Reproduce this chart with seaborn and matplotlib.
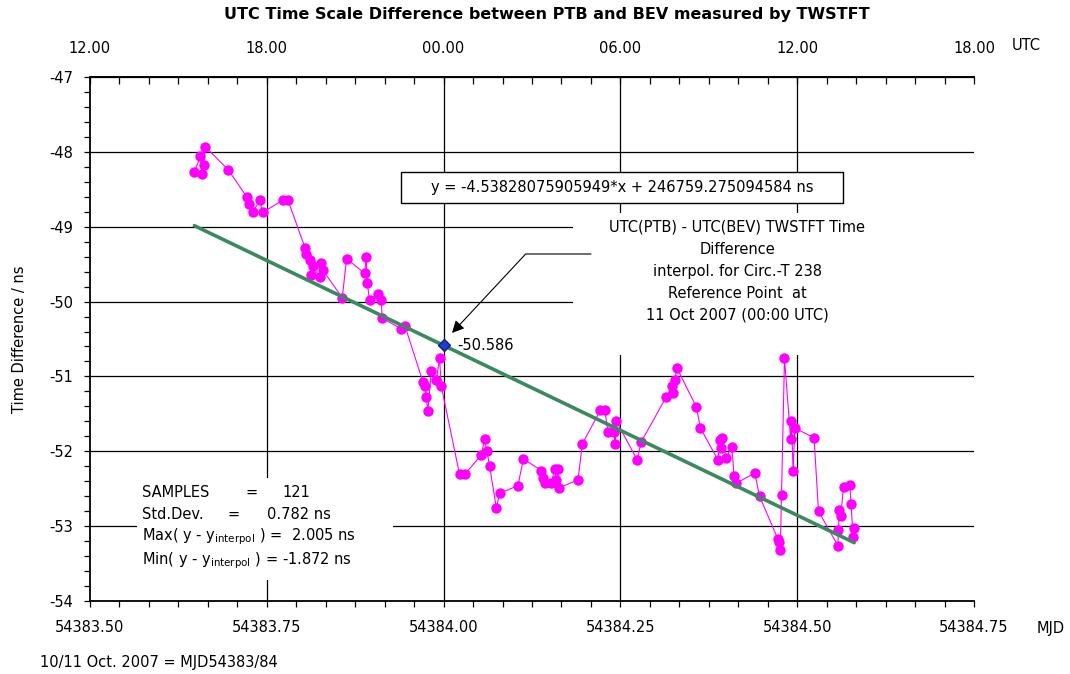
import pandas as pd
import matplotlib
matplotlib.use("Agg")
import matplotlib.pyplot as plt
import seaborn as sns
from matplotlib.patches import Rectangle
from matplotlib.ticker import MultipleLocator

# TWSTFT samples (MJD, ns)
mjd = [
    54383.6477, 54383.6562, 54383.6583, 54383.6611, 54383.6630, 54383.6955,
    54383.7216, 54383.7255, 54383.7305, 54383.7397, 54383.7443, 54383.7736,
    54383.7797, 54383.8040, 54383.8057, 54383.8104, 54383.8128, 54383.8151,
    54383.8246, 54383.8270, 54383.8292, 54383.8567, 54383.8628, 54383.8882,
    54383.8906, 54383.8920, 54383.8953, 54383.9070, 54383.9119, 54383.9130,
    54383.9392, 54383.9455, 54383.9707, 54383.9731, 54383.9755, 54383.9778,
    54383.9826, 54383.9897, 54383.9943, 54383.9967, 54384.0226, 54384.0297,
    54384.0533, 54384.0580, 54384.0613, 54384.0651, 54384.0746, 54384.0792,
    54384.1051, 54384.1129, 54384.1382, 54384.1405, 54384.1436, 54384.1524,
    54384.1570, 54384.1595, 54384.1617, 54384.1631, 54384.1900, 54384.1962,
    54384.2218, 54384.2278, 54384.2325, 54384.2405, 54384.2426, 54384.2443,
    54384.2735, 54384.2797, 54384.3151, 54384.3236, 54384.3247, 54384.3268,
    54384.3301, 54384.3575, 54384.3632, 54384.3881, 54384.3905, 54384.3929,
    54384.3943, 54384.3994, 54384.4075, 54384.4107, 54384.4131, 54384.4400,
    54384.4467, 54384.4726, 54384.4744, 54384.4761, 54384.4778, 54384.4820,
    54384.4907, 54384.4919, 54384.4942, 54384.4966, 54384.5238, 54384.5301,
    54384.5575, 54384.5583, 54384.5596, 54384.5614, 54384.5655, 54384.5744,
    54384.5761, 54384.5791, 54384.5805,
]
diff_ns = [
    -48.27, -48.06, -48.29, -48.17, -47.93, -48.24,
    -48.60, -48.70, -48.80, -48.65, -48.81, -48.64,
    -48.64, -49.28, -49.36, -49.44, -49.64, -49.53,
    -49.67, -49.49, -49.58, -49.95, -49.43, -49.62,
    -49.41, -49.75, -49.98, -49.90, -49.98, -50.22,
    -50.36, -50.33, -51.07, -51.13, -51.28, -51.46,
    -50.93, -51.05, -50.76, -51.13, -52.31, -52.31,
    -52.05, -51.84, -52.00, -52.20, -52.76, -52.56,
    -52.46, -52.10, -52.26, -52.36, -52.42, -52.42,
    -52.24, -52.39, -52.24, -52.49, -52.38, -51.90,
    -51.45, -51.45, -51.74, -51.74, -51.90, -51.60,
    -52.11, -51.87, -51.27, -51.13, -51.22, -51.05,
    -50.89, -51.41, -51.69, -52.12, -51.85, -51.96,
    -51.82, -52.09, -51.94, -52.33, -52.43, -52.29,
    -52.60, -53.17, -53.21, -53.32, -52.58, -50.76,
    -51.84, -51.60, -52.27, -51.69, -51.82, -52.80,
    -53.26, -53.05, -52.79, -52.87, -52.48, -52.45,
    -52.71, -53.14, -53.02,
]

slope = -4.53828075905949
intercept = 246759.275094584
ref_mjd = 54384.0
ref_ns = -50.586

mjd_ticks = [54383.50, 54383.75, 54384.00, 54384.25, 54384.50, 54384.75]
utc_labels = ["12.00", "18.00", "00.00", "06.00", "12.00", "18.00"]
ns_ticks = [-54, -53, -52, -51, -50, -49, -48, -47]

df = pd.DataFrame({"mjd": mjd, "ns": diff_ns})
fit = pd.DataFrame({"mjd": [min(mjd), max(mjd)]})
fit["ns"] = slope * fit["mjd"] + intercept

sns.set_theme(style="white")
plt.rcParams["font.family"] = ["DejaVu Sans"]
plt.rcParams["axes.unicode_minus"] = False
for key in ["text.color", "axes.labelcolor", "xtick.color", "ytick.color"]:
    plt.rcParams[key] = "black"

fig = plt.figure(figsize=(10.7, 6.74), dpi=100)
ax = fig.add_axes([0.0841, 0.1083, 0.8262, 0.7775])

sns.lineplot(data=df, x="mjd", y="ns", ax=ax, color="#ff00ff", lw=0.8,
             marker="o", markersize=7.5, markeredgewidth=0, estimator=None,
             zorder=4)
sns.lineplot(data=fit, x="mjd", y="ns", ax=ax, color="#3b8a5f", lw=2.6,
             estimator=None, zorder=5)
ax.plot([ref_mjd], [ref_ns], marker="D", color="#1f3fc4", markersize=6.5,
        markeredgecolor="#10208a", zorder=6)

ax.set_xlim(54383.5, 54384.75)
ax.set_ylim(-54, -47)
ax.set_xticks(mjd_ticks, labels=[f"{v:.2f}" for v in mjd_ticks])
ax.set_yticks(ns_ticks)
ax.xaxis.set_minor_locator(MultipleLocator(1 / 24))
ax.yaxis.set_minor_locator(MultipleLocator(0.2))
# horizontal grid from the axis, vertical grid only inside (no line on the right edge)
ax.grid(True, axis="y", which="major", color="black", lw=0.9)
ax.vlines(mjd_ticks[1:-1], -54, -47, color="black", lw=0.9, zorder=0.5)
ax.set_axisbelow(True)
ax.tick_params(axis="x", which="both", direction="out", length=4, width=0.9,
               color="black", labelsize=10.5, pad=10, bottom=True)
ax.tick_params(axis="y", which="both", direction="out", length=4, width=0.9,
               color="black", labelsize=10.5, pad=8, left=True)
for s in ["left", "bottom", "top"]:
    ax.spines[s].set_color("black")
    ax.spines[s].set_linewidth(1.3)
ax.spines["right"].set_visible(False)
ax.set_xlabel("")
ax.set_ylabel("Time Difference / ns", fontsize=10.5, labelpad=16)

top = ax.secondary_xaxis("top")
top.set_xticks(mjd_ticks, labels=utc_labels)
top.xaxis.set_minor_locator(MultipleLocator(1 / 24))
top.tick_params(axis="x", which="both", direction="in", length=5, width=0.9,
                color="black", labelsize=10.5, pad=15)
top.spines["top"].set_linewidth(1.3)

# white panels that hide the grid behind the notes
ax.add_patch(Rectangle((0.0532, 0.0401), 0.2896, 0.1946, transform=ax.transAxes,
                       facecolor="white", edgecolor="none", zorder=1.5))
ax.add_patch(Rectangle((0.5464, 0.4695), 0.4536, 0.2710, transform=ax.transAxes,
                       facecolor="white", edgecolor="none", zorder=1.5))
ax.add_patch(Rectangle((0.3518, 0.7595), 0.5, 0.0592, transform=ax.transAxes,
                       facecolor="white", edgecolor="black", lw=1, zorder=1.6))

ax.text(0.6018, 0.789, "y = -4.53828075905949*x + 246759.275094584 ns",
        transform=ax.transAxes, ha="center", va="center", fontsize=10.5, zorder=7)

note = ["UTC(PTB) - UTC(BEV) TWSTFT Time", "Difference",
        "interpol. for Circ.-T 238", "Reference Point  at",
        "11 Oct 2007 (00:00 UTC)"]
for i, line in enumerate(note):
    ax.text(0.7319, 0.7137 - i * 0.042, line, transform=ax.transAxes,
            ha="center", va="center", fontsize=10.5, zorder=7)

ax.text(0.4152, 0.4885, f"{ref_ns:.3f}", transform=ax.transAxes,
        ha="left", va="center", fontsize=10.5, zorder=7)
ax.annotate("", xy=(0.4095, 0.5115), xycoords="axes fraction",
            xytext=(0.5667, 0.6622), textcoords="axes fraction",
            arrowprops=dict(arrowstyle="-|>", color="black", lw=0.8,
                            connectionstyle="angle,angleA=0,angleB=47,rad=0",
                            shrinkA=0, shrinkB=0, mutation_scale=18),
            zorder=7)

stat_kw = dict(transform=ax.transAxes, ha="left", va="center", fontsize=10.5, zorder=7)
ax.text(0.0588, 0.208, "SAMPLES", **stat_kw)
ax.text(0.1755, 0.208, "=", **stat_kw)
ax.text(0.2172, 0.208, "121", **stat_kw)
ax.text(0.0588, 0.166, "Std.Dev.", **stat_kw)
ax.text(0.1550, 0.166, "=", **stat_kw)
ax.text(0.1998, 0.166, "0.782 ns", **stat_kw)
ax.text(0.0588, 0.122, r"Max( y - y$_{\mathregular{interpol}}$ ) =  2.005 ns", **stat_kw)
ax.text(0.0588, 0.0763, r"Min( y - y$_{\mathregular{interpol}}$ ) = -1.872 ns", **stat_kw)

fig.text(0.511, 0.978, "UTC Time Scale Difference between PTB and BEV measured by TWSTFT",
         ha="center", va="center", fontsize=11.5, fontweight="bold")
fig.text(0.946, 0.932, "UTC", ha="left", va="center", fontsize=10.5)
fig.text(0.969, 0.068, "MJD", ha="left", va="center", fontsize=10.5)
fig.text(0.0374, 0.0178, "10/11 Oct. 2007 = MJD54383/84", ha="left", va="center",
         fontsize=10.5)

fig.savefig("out.png", dpi=100)
